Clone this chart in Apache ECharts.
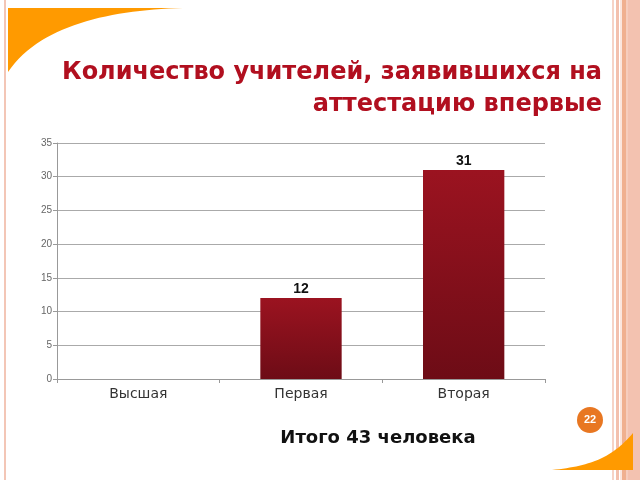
<!DOCTYPE html>
<html><head><meta charset="utf-8">
<script src="https://cdn.jsdelivr.net/npm/echarts@6/dist/echarts.min.js"></script>
<style>html,body{margin:0;padding:0;background:#fff}#c{width:640px;height:480px}</style>
</head><body><div id="c"></div>
<script>
const categories = ['Высшая', 'Первая', 'Вторая'];
const values = [0, 12, 31];
const yMin = 0, yMax = 35, yStep = 5;
const titleLines = ['Количество учителей, заявившихся на', 'аттестацию впервые'];
const totalText = 'Итого 43 человека';
const pageNumber = '22';

function bez(p0, p1, p2, p3, n) {
  const pts = [];
  for (let i = 0; i <= n; i++) {
    const t = i / n, u = 1 - t;
    pts.push([
      u*u*u*p0[0] + 3*u*u*t*p1[0] + 3*u*t*t*p2[0] + t*t*t*p3[0],
      u*u*u*p0[1] + 3*u*u*t*p1[1] + 3*u*t*t*p2[1] + t*t*t*p3[1]
    ]);
  }
  return pts;
}
const swooshTL = [[8, 8]].concat(bez([183, 8], [110, 10], [40, 25], [8, 72], 30));
const swooshBR = [[633, 470]].concat(bez([633, 433], [612, 458], [590, 466], [552, 470], 30));

const chart = echarts.init(document.getElementById('c'), null, {renderer: 'canvas'});
const stripes = [
  {x: 612, w: 2, c: '#f6d3c6'},
  {x: 616, w: 3, c: '#f3c0ad'},
  {x: 620, w: 2, c: '#fbe6dd'},
  {x: 622, w: 4, c: '#f0b08f'},
  {x: 626, w: 2, c: '#f6cdbd'},
  {x: 628, w: 12, c: '#f3c2b0'}
];
const F = '"DejaVu Sans", sans-serif';
const graphics = [
  {type: 'rect', shape: {x: 4, y: 0, width: 2, height: 480}, style: {fill: '#f3c6b6'}, z: 1},
  ...stripes.map(s => ({type: 'rect', shape: {x: s.x, y: 0, width: s.w, height: 480}, style: {fill: s.c}, z: 1})),
  {type: 'polygon', shape: {points: swooshTL}, style: {fill: '#ff9a00'}, z: 2},
  {type: 'polygon', shape: {points: swooshBR}, style: {fill: '#ff9a00'}, z: 2},
  {type: 'circle', shape: {cx: 590, cy: 420, r: 13}, style: {fill: '#e87722'}, z: 3},
  {type: 'text', x: 590, y: 420, style: {text: pageNumber, fill: '#fff', font: 'bold 11px "Liberation Sans", Arial, sans-serif', align: 'center', verticalAlign: 'middle'}, z: 4},
  {type: 'text', x: 602, y: 73, style: {text: titleLines[0], fill: '#b10f1f', font: 'bold 24px ' + F, align: 'right', verticalAlign: 'middle'}, z: 4},
  {type: 'text', x: 602, y: 105, style: {text: titleLines[1], fill: '#b10f1f', font: 'bold 24px ' + F, align: 'right', verticalAlign: 'middle'}, z: 4},
  {type: 'text', x: 378, y: 438, style: {text: totalText, fill: '#111', font: 'bold 18px ' + F, align: 'center', verticalAlign: 'middle'}, z: 4}
];
chart.setOption({
  animation: false,
  grid: {left: 57, right: 95, top: 143, bottom: 101, containLabel: false},
  xAxis: {
    type: 'category', data: categories, boundaryGap: true,
    axisLine: {lineStyle: {color: '#999', width: 1}},
    axisTick: {show: true, alignWithLabel: false, length: 4, lineStyle: {color: '#999'}},
    axisLabel: {color: '#333', fontSize: 14, margin: 8, fontFamily: F}
  },
  yAxis: {
    type: 'value', min: yMin, max: yMax, interval: yStep,
    axisLine: {show: true, lineStyle: {color: '#999', width: 1}},
    axisTick: {show: true, length: 4, lineStyle: {color: '#999'}},
    axisLabel: {color: '#666', fontSize: 10, margin: 5, fontFamily: '"Liberation Sans", Arial, sans-serif'},
    splitLine: {show: true, lineStyle: {color: '#aaa', width: 1}}
  },
  series: [{
    type: 'bar', data: values, barWidth: '50%',
    itemStyle: {color: new echarts.graphic.LinearGradient(0, 0, 0, 1, [
      {offset: 0, color: '#9b1320'}, {offset: 1, color: '#6d0c16'}
    ])},
    label: {show: true, position: 'top', distance: 2, color: '#111', fontWeight: 'bold', fontSize: 14,
      fontFamily: '"Liberation Sans", Arial, sans-serif',
      formatter: p => p.value > 0 ? String(p.value) : ''}
  }],
  graphic: graphics
});
</script></body></html>
